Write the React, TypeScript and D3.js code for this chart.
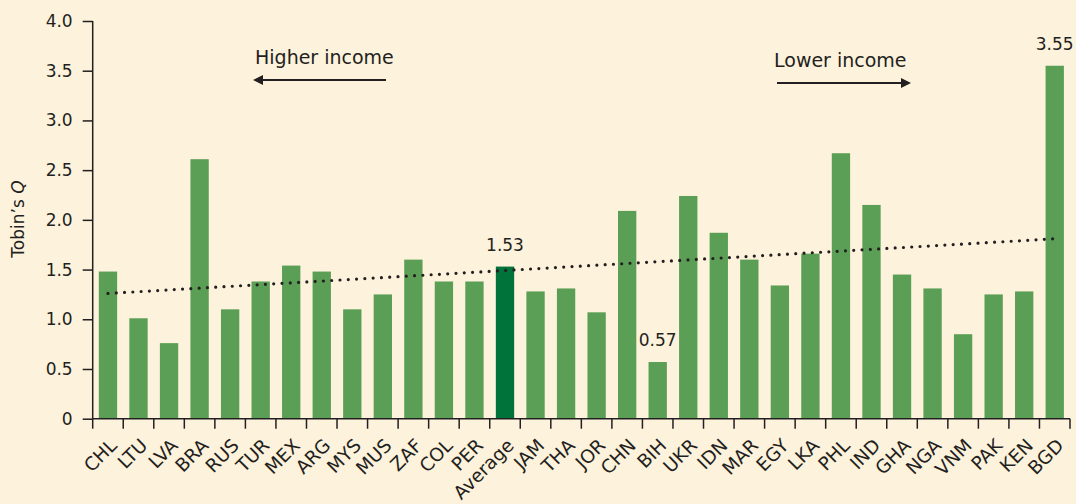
import React, { useEffect, useRef } from 'react';
import * as d3 from 'd3';

const categories = ['CHL', 'LTU', 'LVA', 'BRA', 'RUS', 'TUR', 'MEX', 'ARG', 'MYS', 'MUS', 'ZAF', 'COL', 'PER', 'Average',
  'JAM', 'THA', 'JOR', 'CHN', 'BIH', 'UKR', 'IDN', 'MAR', 'EGY', 'LKA', 'PHL', 'IND', 'GHA', 'NGA', 'VNM', 'PAK', 'KEN', 'BGD'];
const values = [1.48, 1.01, 0.76, 2.61, 1.1, 1.38, 1.54, 1.48, 1.1, 1.25, 1.6, 1.38, 1.38, 1.53,
  1.28, 1.31, 1.07, 2.09, 0.57, 2.24, 1.87, 1.6, 1.34, 1.66, 2.67, 2.15, 1.45, 1.31, 0.85, 1.25, 1.28, 3.55];
const yTicks = [0, 0.5, 1.0, 1.5, 2.0, 2.5, 3.0, 3.5, 4.0];
// trend line end points (first and last category)
const trend = [1.26, 1.81];
const valueLabels = [
  { cat: 'Average', text: '1.53' },
  { cat: 'BIH', text: '0.57' },
  { cat: 'BGD', text: '3.55' },
];

const W = 1076;
const H = 504;
const font = 'DejaVu Sans, sans-serif';
const ink = '#231f20';

export default function App() {
  const ref = useRef<SVGSVGElement>(null);

  useEffect(() => {
    document.body.style.margin = '0';
    document.body.style.overflow = 'hidden';
    const svg = d3.select(ref.current);
    svg.selectAll('*').remove();

    const x0 = 92.7;
    const x1 = 1070;
    const x = d3.scaleBand().domain(categories).range([x0, x1]).paddingInner(0.4).paddingOuter(0.2);
    const y = d3.scaleLinear().domain([0, 4]).range([418.7, 21]);

    svg.append('rect').attr('width', W).attr('height', H).attr('fill', '#fdf2dc');

    // bars
    svg.selectAll('rect.bar')
      .data(values)
      .enter()
      .append('rect')
      .attr('class', 'bar')
      .attr('x', (_, i) => x(categories[i])!)
      .attr('y', (d) => y(d))
      .attr('width', x.bandwidth())
      .attr('height', (d) => y(0) - y(d))
      .attr('fill', (_, i) => (categories[i] === 'Average' ? '#00733a' : '#5a9f55'));

    // trend
    const cx = (c: string) => x(c)! + x.bandwidth() / 2;
    svg.append('line')
      .attr('x1', cx(categories[0]))
      .attr('x2', cx(categories[categories.length - 1]))
      .attr('y1', y(trend[0]))
      .attr('y2', y(trend[1]))
      .attr('stroke', ink)
      .attr('stroke-width', 3.2)
      .attr('stroke-linecap', 'round')
      .attr('stroke-dasharray', '0 8.3');

    // y axis
    const yAxis = d3.axisLeft(y).tickValues(yTicks).tickSize(10).tickPadding(10)
      .tickFormat((d) => (d === 0 ? '0' : d3.format('.1f')(d as number)));
    const gy = svg.append('g').attr('transform', `translate(${x0},0)`).call(yAxis);
    gy.select('.domain').attr('stroke', ink).attr('stroke-width', 1.5).attr('d', `M0,${y(4)}V${y(0)}`);
    gy.selectAll('line').attr('stroke', ink).attr('stroke-width', 1.5);
    gy.selectAll('text').attr('fill', ink).attr('font-family', font).attr('font-size', 17);

    // x axis: ticks at band boundaries
    const bounds = d3.range(categories.length + 1).map((i) => x0 + i * (x1 - x0) / categories.length);
    const gx = svg.append('g');
    gx.append('line').attr('x1', x0).attr('x2', x1).attr('y1', y(0)).attr('y2', y(0))
      .attr('stroke', ink).attr('stroke-width', 1.5);
    gx.selectAll('line.tk').data(bounds).enter().append('line').attr('class', 'tk')
      .attr('x1', (d) => d).attr('x2', (d) => d).attr('y1', y(0)).attr('y2', y(0) + 10)
      .attr('stroke', ink).attr('stroke-width', 1.5);
    gx.selectAll('text').data(categories).enter().append('text')
      .attr('transform', (c) => `translate(${cx(c) + 10},${y(0) + 28}) rotate(-45)`)
      .attr('text-anchor', 'end')
      .attr('fill', ink)
      .attr('font-family', font)
      .attr('font-size', 18.5)
      .text((c) => c);

    // value labels
    svg.selectAll('text.val').data(valueLabels).enter().append('text').attr('class', 'val')
      .attr('x', (d) => cx(d.cat))
      .attr('y', (d) => y(values[categories.indexOf(d.cat)]) - 16)
      .attr('text-anchor', 'middle')
      .attr('fill', ink)
      .attr('font-family', font)
      .attr('font-size', 17)
      .text((d) => d.text);

    // y title
    const yt = svg.append('text')
      .attr('transform', 'translate(24,219) rotate(-90)')
      .attr('text-anchor', 'middle')
      .attr('fill', ink)
      .attr('font-family', font)
      .attr('font-size', 17);
    yt.append('tspan').text('Tobin’s ');
    yt.append('tspan').attr('font-style', 'italic').text('Q');

    // arrows
    const defs = svg.append('defs');
    defs.append('marker').attr('id', 'ah').attr('viewBox', '0 0 10 10').attr('refX', 8).attr('refY', 5)
      .attr('markerWidth', 5).attr('markerHeight', 5).attr('orient', 'auto-start-reverse')
      .attr('markerUnits', 'strokeWidth')
      .append('path').attr('d', 'M0,0L10,5L0,10z').attr('fill', ink);

    svg.append('text').attr('x', 255).attr('y', 64).attr('fill', ink).attr('font-family', font)
      .attr('font-size', 19).text('Higher income');
    svg.append('line').attr('x1', 386).attr('x2', 255).attr('y1', 80).attr('y2', 80)
      .attr('stroke', ink).attr('stroke-width', 2).attr('marker-end', 'url(#ah)');

    svg.append('text').attr('x', 774).attr('y', 67).attr('fill', ink).attr('font-family', font)
      .attr('font-size', 19).text('Lower income');
    svg.append('line').attr('x1', 777).attr('x2', 909).attr('y1', 83).attr('y2', 83)
      .attr('stroke', ink).attr('stroke-width', 2).attr('marker-end', 'url(#ah)');
  }, []);

  return <svg ref={ref} width={W} height={H} style={{ display: 'block' }} />;
}
